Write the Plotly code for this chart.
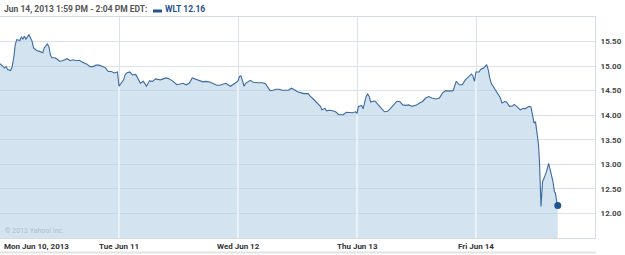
import numpy as np
import plotly.graph_objects as go

# ---- data: minutes after 9:30 open, price ----
day_names = ["Mon Jun 10, 2013", "Tue Jun 11", "Wed Jun 12", "Thu Jun 13", "Fri Jun 14"]
y_ticks = [12.0, 12.5, 13.0, 13.5, 14.0, 14.5, 15.0, 15.5]
y_tick_text = ["12.00", "12.50", "13.00", "13.50", "14.00", "14.50", "15.00", "15.50"]

mon_min = [0, 10, 15, 20, 25, 35, 40, 45, 50, 55, 65, 70, 75, 80, 85, 95, 100, 105, 110, 120,
           130, 140, 145, 155, 160, 165, 170, 180, 190, 195, 205, 220, 230, 240, 250, 260, 270,
           285, 295, 305, 315, 325, 345, 355, 365, 375, 385]
mon_px = [15.05, 14.99, 14.96, 14.99, 14.93, 14.91, 14.99, 15.17, 15.44, 15.54, 15.52, 15.59,
          15.55, 15.61, 15.55, 15.64, 15.58, 15.51, 15.37, 15.32, 15.30, 15.27, 15.37, 15.45,
          15.40, 15.23, 15.17, 15.17, 15.13, 15.10, 15.11, 15.15, 15.11, 15.13, 15.11, 15.12,
          15.08, 15.04, 14.99, 14.99, 15.02, 15.02, 14.97, 14.89, 14.89, 14.86, 14.88]

tue_min = [0, 15, 20, 25, 35, 45, 55, 70, 80, 90, 100, 110, 120, 135, 145, 155, 165, 175, 190,
           200, 210, 220, 230, 240, 255, 265, 275, 285, 295, 310, 320, 330, 340, 350, 365, 375,
           380, 385]
tue_px = [14.59, 14.72, 14.82, 14.86, 14.88, 14.82, 14.83, 14.65, 14.69, 14.59, 14.70, 14.69,
          14.74, 14.72, 14.74, 14.76, 14.74, 14.70, 14.62, 14.63, 14.65, 14.62, 14.65, 14.76,
          14.73, 14.71, 14.68, 14.69, 14.68, 14.64, 14.61, 14.61, 14.63, 14.65, 14.59, 14.62,
          14.65, 14.67]

wed_min = [0, 5, 10, 20, 25, 40, 50, 65, 80, 90, 95, 105, 115, 125, 135, 145, 165, 175, 185,
           195, 205, 215, 230, 235, 250, 260, 270, 275, 285, 290, 300, 310, 320, 330, 345, 355,
           365, 375, 385]
wed_px = [14.70, 14.79, 14.80, 14.59, 14.65, 14.71, 14.67, 14.66, 14.66, 14.64, 14.60, 14.50,
          14.51, 14.53, 14.53, 14.51, 14.51, 14.55, 14.52, 14.48, 14.46, 14.44, 14.44, 14.40,
          14.31, 14.25, 14.18, 14.11, 14.14, 14.09, 14.10, 14.09, 14.07, 14.01, 14.01, 14.06,
          14.05, 14.05, 14.07]

thu_min = [0, 5, 15, 20, 25, 30, 35, 40, 45, 55, 60, 70, 80, 90, 100, 110, 120, 130, 140, 150,
           160, 170, 180, 195, 205, 215, 225, 235, 245, 260, 270, 280, 290, 300, 315, 320, 325,
           335, 345, 355, 370, 375, 380, 385]
thu_px = [14.04, 14.18, 14.20, 14.13, 14.28, 14.38, 14.43, 14.38, 14.27, 14.29, 14.28, 14.22,
          14.14, 14.07, 14.08, 14.14, 14.21, 14.28, 14.28, 14.21, 14.20, 14.21, 14.18, 14.21,
          14.25, 14.28, 14.35, 14.38, 14.35, 14.33, 14.35, 14.45, 14.50, 14.49, 14.50, 14.62,
          14.69, 14.62, 14.62, 14.72, 14.82, 14.84, 14.80, 14.69]

fri_min = [0, 10, 15, 25, 35, 40, 45, 50, 60, 70, 75, 80, 85, 95, 100, 110, 120, 125, 135, 145,
           155, 160, 175, 180, 185, 190, 195, 200, 205, 208, 211, 213, 218, 225, 231, 238, 244,
           249, 252, 257, 260, 265, 268]
fri_px = [14.88, 14.88, 14.93, 14.96, 15.03, 14.93, 14.76, 14.65, 14.55, 14.45, 14.42, 14.35,
          14.25, 14.28, 14.27, 14.18, 14.19, 14.22, 14.17, 14.11, 14.14, 14.13, 14.18, 14.17,
          14.01, 13.84, 13.87, 13.63, 13.39, 13.05, 12.57, 12.14, 12.64, 12.74, 12.85, 13.02,
          12.85, 12.68, 12.66, 12.44, 12.42, 12.23, 12.16]

day_minutes = [mon_min, tue_min, wed_min, thu_min, fri_min]
day_prices = [mon_px, tue_px, wed_px, thu_px, fri_px]
SESSION = 390  # trading minutes per day

xs, ys = [], []
for d, (mins, pxs) in enumerate(zip(day_minutes, day_prices)):
    xs += [d * SESSION + m for m in mins]
    ys += pxs
xs = np.array(xs, dtype=float)
ys = np.array(ys, dtype=float)

FONT = "Roboto"
LINE = "#3a6aa0"
GRID = "#dbe2e9"

fig = go.Figure()
# area fill
fig.add_trace(go.Scatter(x=xs, y=ys, mode="lines", line=dict(width=0),
                         fill="tozeroy", fillcolor="rgba(176,206,229,0.56)",
                         hoverinfo="skip", showlegend=False))
# white day separators inside the filled area
for d in range(1, 5):
    xb = d * SESSION
    fig.add_trace(go.Scatter(x=[xb, xb], y=[11.5, float(np.interp(xb, xs, ys))],
                             mode="lines", line=dict(color="white", width=1.2),
                             hoverinfo="skip", showlegend=False))
# price line
fig.add_trace(go.Scatter(x=xs, y=ys, mode="lines", line=dict(color=LINE, width=1.1),
                         showlegend=False))
# last point
fig.add_trace(go.Scatter(x=[xs[-1]], y=[ys[-1]], mode="markers",
                         marker=dict(color="#1c5592", size=7), showlegend=False))

fig.update_xaxes(range=[0, 5 * SESSION], tickvals=[d * SESSION for d in range(1, 5)],
                 showticklabels=False, showgrid=True, gridcolor=GRID, gridwidth=1,
                 showline=True, mirror=True, linecolor="#d3dbe3", linewidth=1,
                 zeroline=False, fixedrange=True)
fig.update_yaxes(range=[11.5, 16.0], side="right", tickvals=y_ticks, ticktext=y_tick_text,
                 showgrid=True, gridcolor=GRID, gridwidth=1,
                 showline=True, mirror=True, linecolor="#d3dbe3", linewidth=1,
                 zeroline=False, ticks="", ticklabelstandoff=3,
                 tickfont=dict(family=FONT, size=8, color="#444444", weight="bold"))

annotations = []
for d, name in enumerate(day_names):
    annotations.append(dict(x=d * SESSION, y=0, xref="x", yref="paper",
                            text=name, showarrow=False,
                            xanchor="left" if d == 0 else "center", yanchor="top",
                            xshift=2 if d == 0 else 0, yshift=-2,
                            font=dict(family=FONT, size=8, color="#333333", weight="bold")))
# header
annotations.append(dict(x=0, y=1.0, xref="paper", yref="paper", xanchor="left", yanchor="bottom",
                        xshift=2, yshift=1, showarrow=False,
                        text="Jun 14, 2013 1:59 PM - 2:04 PM EDT:",
                        font=dict(family=FONT, size=8.5, color="#555555", weight="bold")))
annotations.append(dict(x=0, y=1.0, xref="paper", yref="paper", xanchor="left", yanchor="bottom",
                        xshift=163, yshift=1, showarrow=False, text="WLT 12.16",
                        font=dict(family=FONT, size=8.5, color="#1f4f8f", weight="bold")))
annotations.append(dict(x=0, y=0, xref="paper", yref="paper", xanchor="left", yanchor="bottom",
                        xshift=3, yshift=1, showarrow=False, text="© 2013 Yahoo! Inc.",
                        font=dict(family=FONT, size=7, color="#aebfcf")))

shapes = [
    dict(type="rect", xref="paper", yref="paper", x0=153 / 595, x1=162 / 595,
         y0=(238 - 12.5) / 221, y1=(238 - 9.5) / 221, fillcolor="#1f5592", line=dict(width=0)),
    dict(type="line", xref="paper", yref="paper", x0=0, x1=596 / 595,
         y0=-14.5 / 221, y1=-14.5 / 221, line=dict(color="#e3e3e3", width=2)),
]

fig.update_layout(width=625, height=255, margin=dict(l=0, r=30, t=17, b=17),
                  paper_bgcolor="white", plot_bgcolor="white",
                  annotations=annotations, shapes=shapes, showlegend=False)

fig.write_html("out.html")
